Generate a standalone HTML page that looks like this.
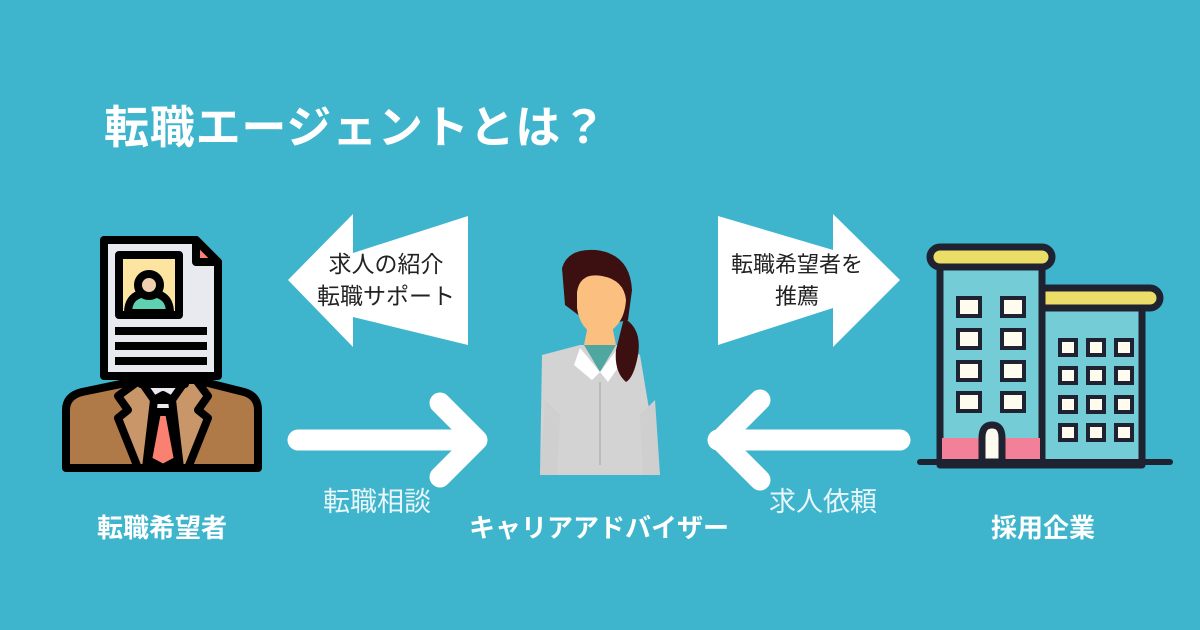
<!DOCTYPE html>
<html><head><meta charset="utf-8"><style>
html,body{margin:0;padding:0;}
body{width:1200px;height:630px;overflow:hidden;background:#3fb5cd;}
svg{display:block;}
text{font-family:"Liberation Sans","Noto Sans CJK JP",sans-serif;}
</style></head><body>
<svg width="1200" height="630" viewBox="0 0 1200 630">
<rect width="1200" height="630" fill="#3fb5cd"/>
<text x="104" y="143" font-size="45" font-weight="bold" fill="#fff" letter-spacing="0.8">転職エージェントとは？</text>

<!-- big arrows -->
<polygon points="288,280 353,214 353,253 468,216 468,345 353,317 353,347" fill="#fff"/>
<text x="386" y="272" font-size="23" fill="#222" text-anchor="middle">求人の紹介</text>
<text x="386" y="304" font-size="23" fill="#222" text-anchor="middle">転職サポート</text>
<polygon points="900,280 833,214 833,250 718,216 718,345 833,308 833,347" fill="#fff"/>
<text x="797" y="272" font-size="22" fill="#222" text-anchor="middle">転職希望者を</text>
<text x="797" y="304" font-size="22" fill="#222" text-anchor="middle">推薦</text>

<!-- line arrows -->
<g stroke="#fff" stroke-width="21" stroke-linecap="round" stroke-linejoin="round" fill="none">
<path d="M298,440 H470 M440,403 L477,440 L440,477"/>
<path d="M900,440 H718 M760,400 L720,440 L760,480"/>
</g>
<text x="377" y="511" font-size="27" fill="#e8f6fa" text-anchor="middle">転職相談</text>
<text x="823" y="511" font-size="27" fill="#e8f6fa" text-anchor="middle">求人依頼</text>
<text x="162" y="537" font-size="26" font-weight="bold" fill="#fff" text-anchor="middle">転職希望者</text>
<text x="599" y="537" font-size="26" font-weight="bold" fill="#fff" text-anchor="middle">キャリアアドバイザー</text>
<text x="1043" y="537" font-size="26" font-weight="bold" fill="#fff" text-anchor="middle">採用企業</text>

<!-- job seeker -->
<g stroke="#000" stroke-width="8" stroke-linejoin="round">
<path d="M66,468 V410 Q66,396 82,392 L140,380 H196 L244,392 Q258,396 258,410 V468 Z" fill="#b07a48"/>
<path d="M140,380 L118,396 L128,410 L118,418 L138,468 H188 L208,418 L198,410 L208,396 L196,380 Z" fill="#c9966a"/>
<path d="M140,380 L154,400 L163,395 L172,400 L186,380 Z" fill="#e8eaf0"/>
<path d="M154,400 L146,468 H180 L172,400 Z" fill="#e8eaf0"/>
<path d="M157,412 L148,460 L163,468 L178,460 L169,412 Z" fill="#fa8072"/>
<rect x="141" y="370" width="44" height="14" fill="#f0cfaf"/>
<path d="M104,240 H196 L218,262 V376 H104 Z" fill="#e8eaf0"/>
<path d="M196,240 V262 H218 Z" fill="#fa8072"/>
<rect x="119" y="255" width="60" height="60" fill="#fde4a0"/>
<path d="M128,313 Q128,293 149,293 Q170,293 170,313 Z" fill="#5fd0b0"/>
<circle cx="149" cy="285" r="11" fill="#f0cfaf"/>
</g>
<g fill="#000"><rect x="115" y="327" width="92" height="8"/><rect x="115" y="342" width="92" height="8"/><rect x="115" y="357" width="92" height="8"/></g>

<!-- advisor -->
<g>
<path d="M542,355 L580,345 L620,345 L640,355 L660,475 H540 Z" fill="#d3d3d3"/>
<path d="M545,400 L540,475 H557 L560,415 Z M655,400 L660,475 H643 L640,415 Z" fill="#cfcfcf"/>
<path d="M562,268 Q568,248 596,250 Q630,254 632,290 L628,320 L605,325 L585,320 L565,305 Z" fill="#3c1010"/>
<path d="M577,292 Q580,272 602,276 Q624,280 626,300 Q624,330 598,336 Q580,330 577,308 Z" fill="#fbc07f"/>
<path d="M588,325 H612 L616,345 H584 Z" fill="#fbc07f"/>
<path d="M584,345 L600,372 L616,345 Z" fill="#4ea8a0"/>
<path d="M580,348 L574,365 L592,380 L600,372 Z M618,348 L622,362 L608,382 L600,372 Z" fill="#fff"/>
<path d="M624,318 Q644,330 637,360 Q633,378 626,382 Q614,372 616,350 Z" fill="#3c1010"/>
<line x1="600" y1="382" x2="600" y2="465" stroke="#bbb" stroke-width="2"/>
</g>

<!-- company -->
<g stroke="#1f2230" stroke-width="7" stroke-linejoin="round">
<rect x="1040" y="293" width="102" height="172" fill="#74cdd6"/>
<rect x="1030" y="288" width="130" height="20" rx="10" fill="#ecdc68"/>
<rect x="940" y="262" width="102" height="203" fill="#74cdd6"/>
<rect x="930" y="247" width="122" height="20" rx="10" fill="#ecdc68"/>
<rect x="942" y="438" width="98" height="24" fill="#f28098" stroke="none"/>
<path d="M982,462 V438 Q982,425 992,425 Q1002,425 1002,438 V462 Z" fill="#fffbef"/>
</g>
<g fill="#fffbef" stroke="#1f2230" stroke-width="4">
<rect x="958" y="298" width="22" height="18"/><rect x="1002" y="298" width="22" height="18"/>
<rect x="958" y="330" width="22" height="18"/><rect x="1002" y="330" width="22" height="18"/>
<rect x="958" y="362" width="22" height="18"/><rect x="1002" y="362" width="22" height="18"/>
<rect x="958" y="393" width="22" height="18"/><rect x="1002" y="393" width="22" height="18"/>
<rect x="1060" y="340" width="16" height="15"/><rect x="1088" y="340" width="16" height="15"/><rect x="1116" y="340" width="16" height="15"/>
<rect x="1060" y="368" width="16" height="15"/><rect x="1088" y="368" width="16" height="15"/><rect x="1116" y="368" width="16" height="15"/>
<rect x="1060" y="397" width="16" height="15"/><rect x="1088" y="397" width="16" height="15"/><rect x="1116" y="397" width="16" height="15"/>
<rect x="1060" y="425" width="16" height="15"/><rect x="1088" y="425" width="16" height="15"/><rect x="1116" y="425" width="16" height="15"/>
</g>
<line x1="920" y1="462" x2="1170" y2="462" stroke="#1f2230" stroke-width="6" stroke-linecap="round"/>
</svg>
</body></html>
